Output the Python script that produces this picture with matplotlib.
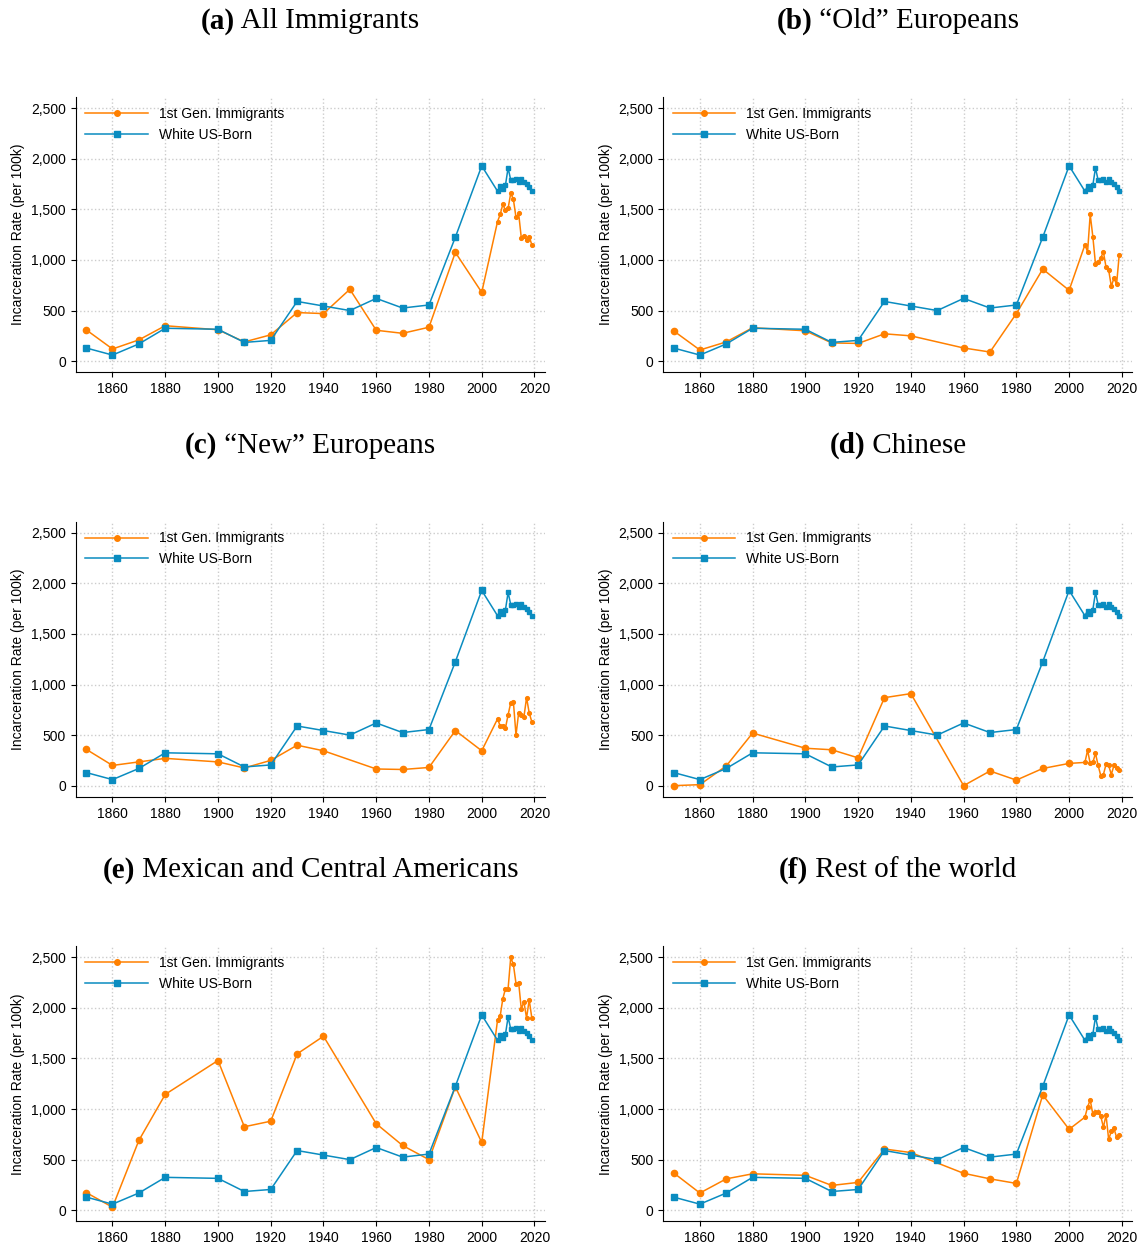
import numpy as np
import matplotlib
matplotlib.use("Agg")
import matplotlib.pyplot as plt
from matplotlib.ticker import FuncFormatter
from matplotlib.lines import Line2D

years = [1850,1860,1870,1880,1900,1910,1920,1930,1940,1950,1960,1970,1980,1990,2000] + list(range(2006,2020))
nan = np.nan
white = [130,60,170,325,315,185,205,590,545,500,620,525,555,1225,1930,
         1680,1730,1700,1740,1910,1790,1790,1800,1770,1800,1770,1750,1720,1680]
imm_a = [310,120,210,350,310,190,260,480,470,710,305,275,335,1075,680,
         1380,1450,1550,1490,1510,1660,1600,1420,1460,1220,1240,1200,1230,1150]
imm_b = [300,110,190,330,300,180,175,270,250,nan,130,90,470,910,700,
         1150,1080,1450,1230,960,980,1020,1080,930,900,740,820,760,1050]
imm_c = [360,200,235,270,235,175,250,400,345,nan,165,160,180,545,345,
         660,590,590,570,700,820,830,500,720,700,680,870,720,630]
imm_d = [0,10,195,520,370,355,275,870,910,nan,0,145,55,170,220,
         230,350,220,230,320,200,100,110,210,200,110,200,170,150]
imm_e = [175,30,690,1145,1480,825,880,1545,1720,nan,855,640,500,1220,670,
         1880,1920,2090,2190,2190,2500,2430,2240,2250,1990,2060,1900,2080,1900]
imm_f = [370,170,310,360,345,245,275,605,570,nan,365,310,265,1140,800,
         920,1020,1090,950,970,970,930,820,940,700,780,810,720,740]
titles = [("(a)", "All Immigrants"), ("(b)", "\u201cOld\u201d Europeans"),
          ("(c)", "\u201cNew\u201d Europeans"), ("(d)", "Chinese"),
          ("(e)", "Mexican and Central Americans"), ("(f)", "Rest of the world")]
imms = [imm_a, imm_b, imm_c, imm_d, imm_e, imm_f]

ORANGE = "#ff8000"
BLUE = "#0a8cc0"
plt.rcParams['font.family'] = ['Liberation Sans', 'DejaVu Sans']
fig = plt.figure(figsize=(11.45, 12.45), dpi=100)
yr = np.array(years)

def draw(ax, vals, color, marker, bigsize):
    v = np.array(vals, dtype=float)
    m = ~np.isnan(v)
    ax.plot(yr[m], v[m], color=color, lw=1.1)
    big = m & (yr <= 2000)
    small = m & (yr > 2000)
    ax.plot(yr[big], v[big], ls='none', marker=marker, color=color, markersize=bigsize)
    ax.plot(yr[small], v[small], ls='none', marker=marker, color=color, markersize=bigsize*0.6)

handles = [Line2D([], [], color=ORANGE, lw=1.1, marker='o', markersize=4),
           Line2D([], [], color=BLUE, lw=1.1, marker='s', markersize=4)]
labels = ['1st Gen. Immigrants', 'White US-Born']

for i, (imm, (lab, name)) in enumerate(zip(imms, titles)):
    r, c = divmod(i, 2)
    left = 0.066 if c == 0 else 0.579
    bottom = 0.701 - r * 0.341
    ax = fig.add_axes([left, bottom, 0.41, 0.221])
    draw(ax, imm, ORANGE, 'o', 4.5)
    draw(ax, white, BLUE, 's', 4.5)
    ax.set_xlim(1846, 2024)
    ax.set_ylim(-110, 2610)
    ax.set_xticks(range(1860, 2021, 20))
    ax.set_yticks(range(0, 2501, 500))
    ax.yaxis.set_major_formatter(FuncFormatter(lambda x, p: f"{int(x):,}"))
    ax.grid(True, color='#cccccc', ls=':', lw=1)
    for s in ['top', 'right']:
        ax.spines[s].set_visible(False)
    ax.tick_params(labelsize=10)
    ax.set_ylabel("Incarceration Rate (per 100k)", fontsize=10)
    ax.legend(handles, labels, loc='upper left', frameon=False, fontsize=10,
              handlelength=4.5, borderaxespad=0.3, labelspacing=0.5)
    x0 = left + 0.205
    ty = bottom + 0.282
    t1 = fig.text(0, 0, lab, fontsize=21, family='Liberation Serif', weight='bold')
    t2 = fig.text(0, 0, " " + name, fontsize=21, family='Liberation Serif')
    fig.canvas.draw()
    rend = fig.canvas.get_renderer()
    w1 = t1.get_window_extent(rend).width / fig.bbox.width
    w2 = t2.get_window_extent(rend).width / fig.bbox.width
    start = x0 - (w1 + w2) / 2
    t1.set_position((start, ty)); t1.set_va('center')
    t2.set_position((start + w1, ty)); t2.set_va('center')

fig.savefig("out.png", dpi=100)
